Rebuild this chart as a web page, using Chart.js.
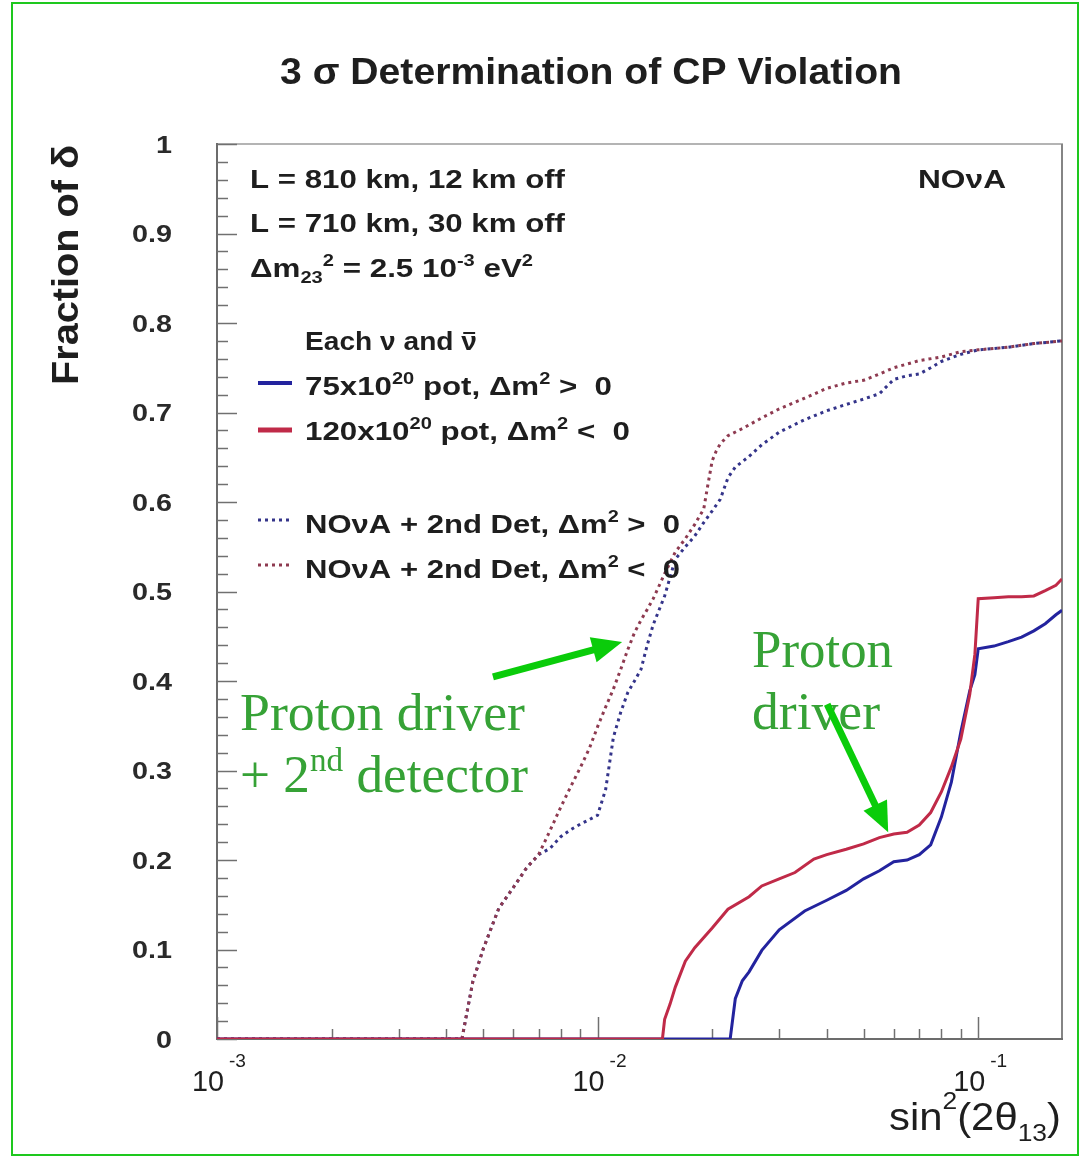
<!DOCTYPE html>
<html><head><meta charset="utf-8">
<script src="https://cdn.jsdelivr.net/npm/chart.js@4/dist/chart.umd.min.js"></script>
<style>html,body{margin:0;padding:0;background:#fff;}canvas{display:block;}</style>
</head><body>
<canvas id="c" width="1079" height="1157"></canvas>
<script>
// ---- data ----
const redSolidX = [0.001, 0.0148, 0.015, 0.0155, 0.016, 0.017, 0.018, 0.02, 0.022, 0.025, 0.027, 0.03, 0.033, 0.037, 0.04, 0.045, 0.05, 0.055, 0.06, 0.065, 0.07, 0.075, 0.08, 0.085, 0.09, 0.095, 0.098, 0.1, 0.11, 0.12, 0.13, 0.14, 0.15, 0.16, 0.166];
const redSolidY = [0, 0, 0.022, 0.039, 0.058, 0.087, 0.102, 0.124, 0.145, 0.159, 0.171, 0.179, 0.186, 0.201, 0.206, 0.212, 0.218, 0.225, 0.229, 0.231, 0.239, 0.253, 0.276, 0.304, 0.335, 0.385, 0.430, 0.492, 0.493, 0.494, 0.494, 0.495, 0.501, 0.507, 0.514];

const blueSolidX = [0.001, 0.0223, 0.023, 0.024, 0.025, 0.027, 0.03, 0.035, 0.04, 0.045, 0.05, 0.055, 0.06, 0.065, 0.07, 0.075, 0.08, 0.085, 0.09, 0.095, 0.098, 0.1, 0.11, 0.12, 0.13, 0.14, 0.15, 0.16, 0.166];
const blueSolidY = [0, 0, 0.045, 0.065, 0.075, 0.099, 0.122, 0.143, 0.155, 0.166, 0.179, 0.188, 0.198, 0.200, 0.206, 0.217, 0.248, 0.287, 0.343, 0.389, 0.407, 0.436, 0.439, 0.444, 0.449, 0.456, 0.464, 0.474, 0.479];

const redDottedX = [0.001, 0.0044, 0.0047, 0.005, 0.0055, 0.006, 0.0065, 0.007, 0.0075, 0.008, 0.0085, 0.009, 0.0095, 0.01, 0.0105, 0.011, 0.0115, 0.012, 0.0125, 0.013, 0.0135, 0.014, 0.015, 0.016, 0.017, 0.018, 0.019, 0.0195, 0.02, 0.0205, 0.021, 0.022, 0.024, 0.027, 0.03, 0.035, 0.04, 0.045, 0.05, 0.055, 0.06, 0.07, 0.08, 0.09, 0.1, 0.12, 0.14, 0.166];
const redDottedY = [0, 0, 0.064, 0.10, 0.146, 0.169, 0.191, 0.206, 0.233, 0.259, 0.282, 0.303, 0.324, 0.349, 0.371, 0.391, 0.413, 0.435, 0.454, 0.468, 0.480, 0.492, 0.520, 0.544, 0.559, 0.575, 0.592, 0.620, 0.646, 0.657, 0.665, 0.674, 0.682, 0.694, 0.704, 0.716, 0.727, 0.733, 0.736, 0.743, 0.750, 0.758, 0.762, 0.768, 0.770, 0.773, 0.777, 0.780];

const blueDottedX = [0.001, 0.0044, 0.0047, 0.005, 0.0055, 0.006, 0.0065, 0.007, 0.0075, 0.008, 0.0085, 0.009, 0.0095, 0.01, 0.0105, 0.011, 0.0115, 0.012, 0.0125, 0.013, 0.0135, 0.014, 0.015, 0.016, 0.017, 0.018, 0.019, 0.02, 0.021, 0.022, 0.023, 0.024, 0.025, 0.027, 0.03, 0.035, 0.04, 0.045, 0.05, 0.055, 0.06, 0.065, 0.07, 0.075, 0.08, 0.09, 0.1, 0.12, 0.14, 0.166];
const blueDottedY = [0, 0, 0.064, 0.10, 0.146, 0.169, 0.191, 0.206, 0.213, 0.226, 0.234, 0.240, 0.245, 0.250, 0.279, 0.337, 0.365, 0.387, 0.400, 0.413, 0.440, 0.463, 0.495, 0.536, 0.550, 0.562, 0.577, 0.590, 0.603, 0.627, 0.639, 0.645, 0.651, 0.664, 0.678, 0.692, 0.702, 0.709, 0.715, 0.721, 0.737, 0.741, 0.743, 0.750, 0.757, 0.765, 0.770, 0.773, 0.777, 0.780];

const yTickValues = [0, 0.1, 0.2, 0.3, 0.4, 0.5, 0.6, 0.7, 0.8, 0.9, 1];
const yTickLabels = ['0', '0.1', '0.2', '0.3', '0.4', '0.5', '0.6', '0.7', '0.8', '0.9', '1'];
const xTickValues = [0.001, 0.01, 0.1];
const xTickExponents = ['-3', '-2', '-1'];

// annotation arrows (data coordinates: tail -> tip)
const arrowTails = [[0.00531, 0.4045], [0.0401, 0.374]];
const arrowTips  = [[0.0116, 0.4436], [0.0580, 0.231]];

const COL_RED = '#c02a48', COL_BLUE = '#23239e', COL_RED_DOT = '#8e3a50', COL_BLUE_DOT = '#34348a';

const toPts = (xs, ys) => xs.map((x, i) => ({x: x, y: ys[i]}));

const SANS = '"Liberation Sans", Arial, Helvetica, sans-serif';
const SERIF = '"Liberation Serif", "Times New Roman", serif';

// rich text: segs = [[text, kind]] kind 0 normal, 1 sup, 2 sub, 3 normal with overbar
function rich(ctx, segs, x, y, size, o) {
  o = o || {};
  const fam = o.family || SANS;
  const wt = o.bold ? 'bold ' : '';
  const sc = o.scriptScale || 0.62;
  const small = k => k === 1 || k === 2;
  const fontFor = k => wt + (small(k) ? Math.round(size * sc) : size) + 'px ' + fam;
  let w = 0;
  for (const [t, k] of segs) { ctx.font = fontFor(k); w += ctx.measureText(t).width; }
  const sx = o.width ? o.width / w : (o.sx || 1);
  ctx.save();
  ctx.fillStyle = o.color || '#222';
  ctx.strokeStyle = o.color || '#222';
  ctx.textBaseline = 'alphabetic';
  ctx.textAlign = 'left';
  ctx.translate(x, y);
  if (o.rot) ctx.rotate(o.rot);
  let off = 0;
  if (o.align === 'right') off = -w * sx; else if (o.align === 'center') off = -w * sx / 2;
  ctx.translate(off, 0);
  ctx.scale(sx, 1);
  let cx = 0;
  const up = (o.supRaise !== undefined ? o.supRaise : 0.42) * size;
  const dn = (o.subDrop !== undefined ? o.subDrop : 0.22) * size;
  for (const [t, k] of segs) {
    ctx.font = fontFor(k);
    const tw = ctx.measureText(t).width;
    ctx.fillText(t, cx, k === 1 ? -up : (k === 2 ? dn : 0));
    if (k === 3) {
      ctx.lineWidth = size * 0.08;
      ctx.beginPath();
      ctx.moveTo(cx + tw * 0.12, -size * 0.68);
      ctx.lineTo(cx + tw * 0.88, -size * 0.68);
      ctx.stroke();
    }
    cx += tw;
  }
  ctx.restore();
}

function seg(ctx, x1, y1, x2, y2) { ctx.beginPath(); ctx.moveTo(x1, y1); ctx.lineTo(x2, y2); ctx.stroke(); }

const decor = {
  id: 'decor',
  beforeDatasetsDraw(chart) {
    const {ctx, chartArea: a, scales: {x, y}} = chart;
    ctx.save();
    ctx.lineWidth = 2;
    ctx.strokeStyle = '#b4b4b4'; seg(ctx, a.left, a.top, a.right + 1, a.top);
    ctx.strokeStyle = '#858585'; seg(ctx, a.right, a.top, a.right, a.bottom);
    ctx.strokeStyle = '#6c6c6c'; seg(ctx, a.left, a.top - 1, a.left, a.bottom + 1); seg(ctx, a.left, a.bottom, a.right + 1, a.bottom);
    ctx.lineWidth = 1.5;
    ctx.strokeStyle = '#707070';
    for (let i = 0; i <= 50; i++) {
      const v = i / 50;
      const py = Math.round(y.getPixelForValue(v)) + 0.5;
      seg(ctx, a.left, py, a.left + (i % 5 === 0 ? 20 : 11), py);
    }
    for (let e = -3; e <= -1; e++) {
      for (let m = 1; m <= 9; m++) {
        const v = m * Math.pow(10, e);
        if (v > x.max) break;
        const px = Math.round(x.getPixelForValue(v)) + 0.5;
        seg(ctx, px, a.bottom, px, a.bottom - (m === 1 ? 22 : 10));
      }
    }
    ctx.restore();
  },
  afterDraw(chart) {
    const {ctx, chartArea: a, scales: {x, y}} = chart;
    ctx.save();
    // outer green frame
    ctx.strokeStyle = '#1ec81e'; ctx.lineWidth = 2;
    ctx.strokeRect(12, 3, 1066, 1152);

    // title
    rich(ctx, [['3 σ Determination of CP Violation', 0]], 280, 84, 36, {bold: true, width: 622, color: '#1e1e1e'});
    // y title
    rich(ctx, [['Fraction of δ', 0]], 78, 385, 36, {bold: true, width: 240, rot: -Math.PI / 2, color: '#1e1e1e'});
    // x title
    rich(ctx, [['sin', 0], ['2', 1], ['(2θ', 0], ['13', 2], [')', 0]], 889, 1130, 38, {width: 172, supRaise: 0.55, subDrop: 0.28, color: '#1e1e1e'});

    // y tick labels
    yTickValues.forEach((v, i) => {
      const py = y.getPixelForValue(v);
      rich(ctx, [[yTickLabels[i], 0]], 172, py + 8.5, 23, {bold: true, sx: 1.25, align: 'right', color: '#2a2a2a'});
    });
    // x tick labels
    xTickValues.forEach((v, i) => {
      const px = x.getPixelForValue(v);
      rich(ctx, [['10', 0]], px + 7, 1091, 30, {width: 32, align: 'right', color: '#1e1e1e'});
      rich(ctx, [[xTickExponents[i], 0]], px + 12, 1067, 19, {width: 17, color: '#1e1e1e'});
    });

    // in-plot text
    const T = {bold: true, color: '#1e1e1e', supRaise: 0.45};
    rich(ctx, [['L = 810 km, 12 km off', 0]], 250, 188, 25, Object.assign({width: 315}, T));
    rich(ctx, [['L = 710 km, 30 km off', 0]], 250, 232, 25, Object.assign({width: 315}, T));
    rich(ctx, [['Δm', 0], ['23', 2], ['2', 1], [' = 2.5 10', 0], ['-3', 1], [' eV', 0], ['2', 1]], 250, 277, 25, Object.assign({width: 283}, T));
    rich(ctx, [['NOνA', 0]], 918, 188, 25, Object.assign({width: 88}, T));

    // legend
    rich(ctx, [['Each ν and ', 0], ['ν', 3]], 305, 350, 25, Object.assign({width: 172}, T));
    rich(ctx, [['75x10', 0], ['20', 1], [' pot, Δm', 0], ['2', 1], [' >  0', 0]], 305, 395, 25, Object.assign({width: 307}, T));
    rich(ctx, [['120x10', 0], ['20', 1], [' pot, Δm', 0], ['2', 1], [' <  0', 0]], 305, 440, 25, Object.assign({width: 325}, T));
    rich(ctx, [['NOνA + 2nd Det, Δm', 0], ['2', 1], [' >  0', 0]], 305, 533, 25, Object.assign({width: 375}, T));
    rich(ctx, [['NOνA + 2nd Det, Δm', 0], ['2', 1], [' <  0', 0]], 305, 578, 25, Object.assign({width: 375}, T));
    const ls = chart.data.datasets;
    const sample = (ds, yy, lw) => {
      ctx.save();
      ctx.strokeStyle = ds.borderColor; ctx.lineWidth = lw;
      ctx.setLineDash(ds.borderDash || []);
      seg(ctx, 258, yy, 292, yy);
      ctx.restore();
    };
    sample(ls[1], 383, 4); sample(ls[0], 430, 5); sample(ls[3], 520, 3); sample(ls[2], 565, 3);

    // green annotations
    const G = {family: SERIF, color: '#36a236'};
    rich(ctx, [['Proton driver', 0]], 240, 730, 53, Object.assign({width: 285}, G));
    rich(ctx, [['+ 2', 0], ['nd', 1], [' detector', 0]], 240, 792, 53, Object.assign({width: 288, supRaise: 0.4}, G));
    rich(ctx, [['Proton', 0]], 752, 667, 53, Object.assign({width: 141}, G));
    rich(ctx, [['driver', 0]], 752, 729, 53, Object.assign({width: 128}, G));

    // arrows
    ctx.fillStyle = '#0acc0a'; ctx.strokeStyle = '#0acc0a';
    arrowTails.forEach((t, i) => {
      const x1 = x.getPixelForValue(t[0]), y1 = y.getPixelForValue(t[1]);
      const x2 = x.getPixelForValue(arrowTips[i][0]), y2 = y.getPixelForValue(arrowTips[i][1]);
      const ang = Math.atan2(y2 - y1, x2 - x1);
      const hl = 30, hw = 13;
      const bx = x2 - hl * Math.cos(ang), by = y2 - hl * Math.sin(ang);
      ctx.lineWidth = 7; ctx.lineCap = 'butt';
      seg(ctx, x1, y1, bx + 2 * Math.cos(ang), by + 2 * Math.sin(ang));
      ctx.beginPath();
      ctx.moveTo(x2, y2);
      ctx.lineTo(bx + hw * Math.sin(ang), by - hw * Math.cos(ang));
      ctx.lineTo(bx - hw * Math.sin(ang), by + hw * Math.cos(ang));
      ctx.closePath(); ctx.fill();
    });
    ctx.restore();
  }
};

new Chart(document.getElementById('c').getContext('2d'), {
  type: 'line',
  data: {
    datasets: [
      {label: '120x10^20 pot, Δm² < 0', data: toPts(redSolidX, redSolidY), borderColor: COL_RED, borderWidth: 3},
      {label: '75x10^20 pot, Δm² > 0', data: toPts(blueSolidX, blueSolidY), borderColor: COL_BLUE, borderWidth: 3},
      {label: 'NOvA + 2nd Det, Δm² < 0', data: toPts(redDottedX, redDottedY), borderColor: COL_RED_DOT, borderWidth: 3, borderDash: [3, 4]},
      {label: 'NOvA + 2nd Det, Δm² > 0', data: toPts(blueDottedX, blueDottedY), borderColor: COL_BLUE_DOT, borderWidth: 3, borderDash: [3, 4]}
    ]
  },
  options: {
    responsive: false,
    animation: false,
    devicePixelRatio: 1,
    layout: {padding: {left: 217, top: 144, right: 17, bottom: 118}},
    elements: {point: {radius: 0}, line: {tension: 0, fill: false}},
    plugins: {legend: {display: false}, tooltip: {enabled: false}, title: {display: false}},
    scales: {
      x: {type: 'logarithmic', min: 0.001, max: 0.166, display: false},
      y: {type: 'linear', min: 0, max: 1, display: false}
    }
  },
  plugins: [decor]
});
</script>
</body></html>
